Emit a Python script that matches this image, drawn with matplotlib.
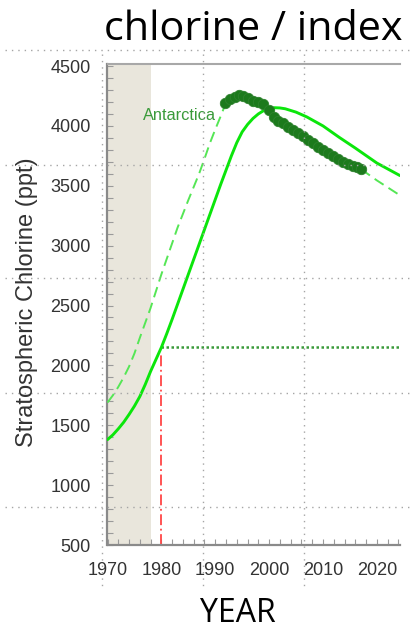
import matplotlib
matplotlib.use("Agg")
import matplotlib.pyplot as plt
from matplotlib.lines import Line2D
from matplotlib.ticker import MultipleLocator

# ---- data -------------------------------------------------------------
solid_years = [1970, 1971, 1972, 1973, 1974, 1975, 1976, 1977, 1978, 1979,
               1980, 1981, 1982, 1983, 1985, 1987, 1989, 1991, 1993, 1994,
               1995, 1996, 1997, 1998, 1999, 2000, 2001, 2002, 2003, 2005,
               2007, 2010, 2013, 2016, 2020, 2024.3]
solid_vals = [1380, 1420, 1470, 1525, 1590, 1660, 1740, 1840, 1950, 2050,
              2150, 2265, 2385, 2510, 2760, 3010, 3260, 3510, 3750, 3860,
              3950, 4012, 4062, 4100, 4128, 4145, 4152, 4150, 4143, 4115,
              4075, 4000, 3905, 3815, 3690, 3585]

dashed_early_years = [1970, 1971, 1972, 1973, 1974, 1975, 1976, 1977, 1978,
                      1979, 1980, 1981, 1982, 1983, 1984, 1985, 1986, 1987,
                      1988, 1989, 1990, 1991, 1992]
dashed_early_vals = [1690, 1750, 1820, 1900, 1990, 2100, 2230, 2355, 2480,
                     2620, 2760, 2890, 3020, 3150, 3265, 3380, 3490, 3600,
                     3725, 3855, 3970, 4080, 4194]
dashed_late_years = [2017.1, 2020, 2024.3]
dashed_late_vals = [3638, 3545, 3420]

obs_years = [1991.9, 1992.7, 1993.6, 1994.5, 1995.1, 1996.1, 1997.0, 1997.9,
             1998.9, 2000.0, 2001.0, 2001.6, 2002.6, 2003.5, 2004.4, 2005.3,
             2006.3, 2007.2, 2008.1, 2009.0, 2010.0, 2010.9, 2011.8, 2012.7,
             2013.7, 2014.6, 2015.5, 2016.4, 2017.1]
obs_vals = [4194, 4222, 4244, 4255, 4252, 4230, 4210, 4202, 4183, 4133,
            4077, 4043, 4022, 3993, 3966, 3943, 3916, 3882, 3855, 3826,
            3799, 3776, 3749, 3721, 3701, 3682, 3665, 3654, 3638]

ref_year = 1980
ref_level = 2150
shade_span = (1970, 1978)
x_ticks = [1970, 1980, 1990, 2000, 2010, 2020]
y_ticks = [500, 1000, 1500, 2000, 2500, 3000, 3500, 4000, 4500]

# ---- figure -------------------------------------------------------------
W, H = 414, 633
fig = plt.figure(figsize=(W / 100, H / 100), dpi=100)
ax = fig.add_axes([107.5 / W, 1 - 545 / H, 292.5 / W, (545 - 64) / H])

ax.set_xlim(1970, 2024.3)
ax.set_ylim(500, 4517)

ax.axvspan(*shade_span, color="#e9e6dc", zorder=0, lw=0)

ax.plot(solid_years, solid_vals, color="#0be60b", lw=2.1, zorder=3,
        solid_capstyle="round", solid_joinstyle="round")
ax.plot(dashed_early_years, dashed_early_vals, color="#55e655", lw=1.4,
        dashes=(5.5, 3), zorder=3)
ax.plot(dashed_late_years, dashed_late_vals, color="#55e655", lw=1.4,
        dashes=(5.5, 3), zorder=3)
ax.plot(obs_years, obs_vals, "o", color="#1c7a1c", ms=7.5, mec="#2e822e",
        mew=0.6, zorder=4)

ax.plot([ref_year, 2024.3], [ref_level, ref_level], color="#3a9a3a",
        lw=1.8, ls=(0, (1, 1)), zorder=2)
ax.plot([ref_year, ref_year], [500, ref_level - 40], color="#ff4545",
        lw=1.3, dashes=(6, 2, 1, 2), zorder=2)

ax.text(1976.6, 4085, "Antarctica", color="#3a9a3a", fontsize=11.8,
        family="Liberation Sans", va="center", ha="left")

for s in ["left", "bottom"]:
    ax.spines[s].set_color("#8a8a8a")
    ax.spines[s].set_linewidth(1.6)
ax.spines["top"].set_color("#a8a8a8")
ax.spines["top"].set_linewidth(1.5)
ax.spines["right"].set_visible(False)

ax.set_xticks(x_ticks)
ax.set_yticks(y_ticks)
ax.xaxis.set_minor_locator(MultipleLocator(2))
ax.yaxis.set_minor_locator(MultipleLocator(100))
ax.tick_params(axis="both", which="both", direction="in", color="#9a9a9a",
               labelcolor="#333333", labelsize=13)
ax.tick_params(axis="both", which="major", length=4, width=0.8)
ax.tick_params(axis="both", which="minor", length=4, width=0.8)
ax.tick_params(axis="x", pad=12)
ax.tick_params(axis="y", pad=12)
for lab in ax.get_xticklabels() + ax.get_yticklabels():
    lab.set_family("Liberation Sans")

fig.text(27 / W, 1 - 302 / H, "Stratospheric Chlorine (ppt)", rotation=90,
         ha="center", va="center", fontsize=17, color="#333333",
         family="Liberation Sans")

fig.text(403 / W, 1 - 30 / H, "chlorine / index", ha="right", va="center",
         fontsize=29.8, color="black", family="Open Sans")
fig.text(238 / W, 1 - 613 / H, "YEAR", ha="center", va="center",
         fontsize=23, color="black", family="Open Sans")

# slide guide dots
for yy in [50, 165, 278, 393, 507]:
    fig.add_artist(Line2D([5 / W, 412 / W], [1 - yy / H, 1 - yy / H],
                          transform=fig.transFigure, color="#a5a5a5",
                          lw=1.0, dashes=(1, 3.6), zorder=1))
for xx in [102, 203, 304]:
    fig.add_artist(Line2D([xx / W, xx / W], [1 - 54 / H, 1 - 588 / H],
                          transform=fig.transFigure, color="#a5a5a5",
                          lw=1.0, dashes=(1, 3.6), zorder=1))

fig.savefig("out.png", dpi=100)
